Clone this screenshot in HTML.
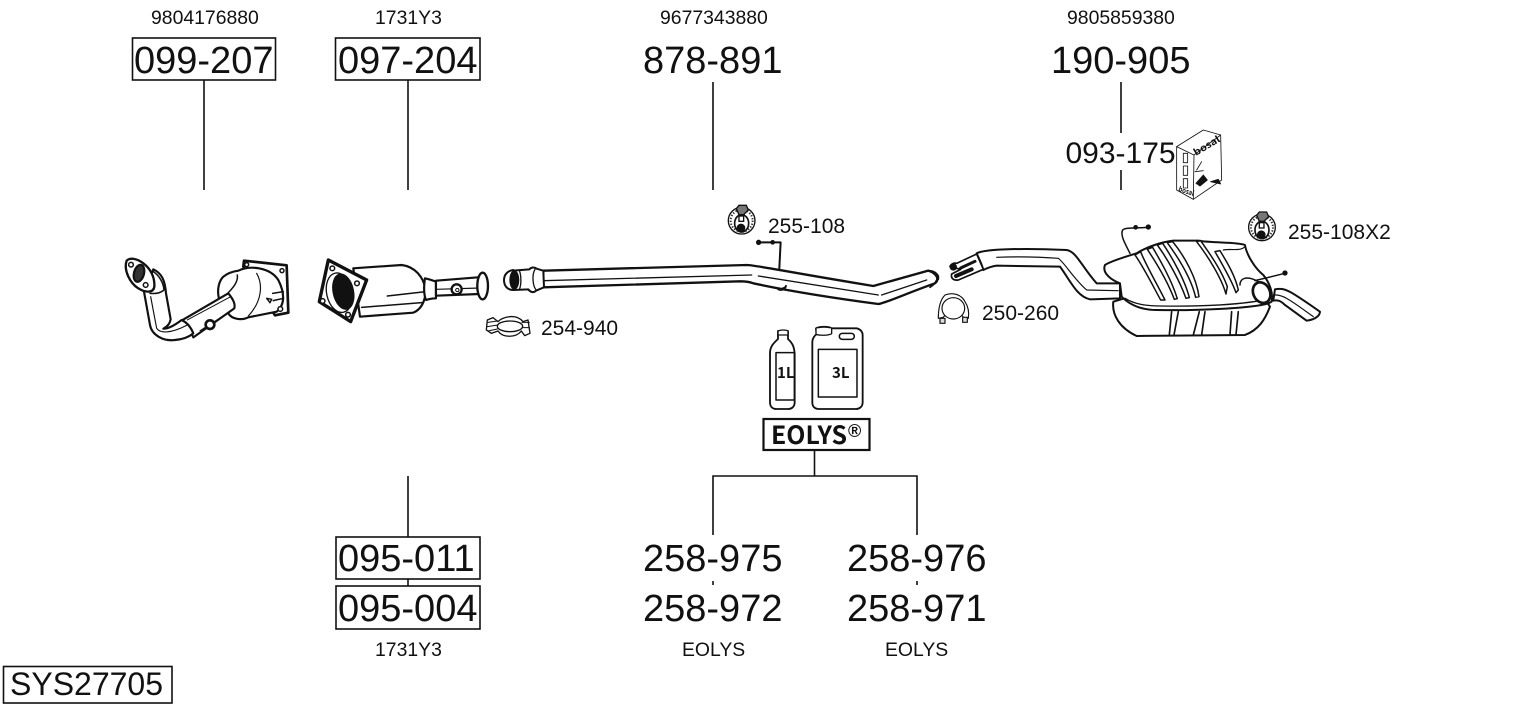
<!DOCTYPE html>
<html><head><meta charset="utf-8"><style>
html,body{margin:0;padding:0;background:#fff}
svg{display:block}
text{font-family:"Liberation Sans",sans-serif;fill:#111}
.b{font-size:38px}.s{font-size:19.400px}.m{font-size:21px}
.d path,.d line,.d ellipse,.d circle,.d polygon,.d polyline,.d rect{stroke:#111;stroke-linejoin:round;stroke-linecap:round}
.n{font-family:"Noto Sans CJK JP","Liberation Sans",sans-serif;font-weight:700}
</style></head><body>
<svg width="1530" height="711" viewBox="0 0 1530 711" xmlns="http://www.w3.org/2000/svg">
<defs>
<g id="mount">
<circle cx="0" cy="0" r="40" fill="#fff" stroke="#111" stroke-width="4"/>
<circle cx="0" cy="0" r="33" fill="none" stroke="#333" stroke-width="6" stroke-dasharray="4 5"/>
<ellipse cx="0" cy="8" rx="21" ry="26" fill="#fff" stroke="#111" stroke-width="5"/>
<path d="M-16 -36L-8 -46L14 -46L20 -32L6 -18L-8 -18Z" fill="#777" stroke="#111" stroke-width="4"/>
<rect x="-8" y="-14" width="14" height="16" fill="#fff" stroke="#111" stroke-width="4"/>
<circle cx="-2" cy="22" r="10" fill="#111" stroke="#111"/>
</g>
</defs>
<rect width="1530" height="711" fill="#fff"/>
<g fill="none" stroke="#111" stroke-width="1.6">
<path d="M204 80V190M408 80V190M713 82V190M1121 82V133M1121 170V190M408 476V537M408 579V586M814.500 450V476M713 535V476H917V535M713 581V585M917 581V585"/>
<rect x="132.500" y="38" width="143" height="42" fill="#fff"/>
<rect x="335.500" y="38" width="144.500" height="42" fill="#fff"/>
<rect x="336" y="537" width="144" height="42" fill="#fff"/>
<rect x="336" y="586" width="144" height="43" fill="#fff"/>
<rect x="3.500" y="666.500" width="168.500" height="36.500" fill="#fff"/>
</g>
<text class="s" x="151" y="24">9804176880</text>
<text class="s" x="375" y="24">1731Y3</text>
<text class="s" x="660" y="24">9677343880</text>
<text class="s" x="1067" y="24">9805859380</text>
<text class="b" x="134" y="73">099-207</text>
<text class="b" x="338" y="73">097-204</text>
<text class="b" x="643" y="73">878-891</text>
<text class="b" x="1051" y="73">190-905</text>
<text x="1065.500" y="163" font-size="30">093-175</text>
<text class="m" x="768" y="233">255-108</text>
<text class="m" x="541" y="335">254-940</text>
<text class="m" x="982" y="320">250-260</text>
<text class="m" x="1288" y="239">255-108X2</text>
<text class="b" x="338" y="571">095-011</text>
<text class="b" x="338" y="621">095-004</text>
<text class="b" x="643" y="571">258-975</text>
<text class="b" x="643" y="621">258-972</text>
<text class="b" x="847" y="571">258-976</text>
<text class="b" x="847" y="621">258-971</text>
<text class="s" x="375" y="656">1731Y3</text>
<text class="s" x="682" y="656">EOLYS</text>
<text class="s" x="885" y="656">EOLYS</text>
<text x="10" y="695" font-size="32">SYS27705</text>

<g class="d" transform="translate(100,230) scale(.3333)" fill="#fff" stroke-width="6.500">
<path d="M432 92L560 106L565 248L525 256L430 110Z" stroke-width="8"/>
<path d="M415 122C450 105 510 112 535 150C555 190 555 225 530 245L445 262C425 272 395 268 385 250C350 225 345 165 370 140C385 128 400 124 415 122Z"/>
<path d="M470 130C490 165 485 215 445 258" fill="none" stroke-width="3.500"/>
<path d="M412 135C415 155 400 172 385 188" fill="none" stroke-width="4.500"/>
<circle cx="440" cy="104" r="6" stroke-width="4.500"/><circle cx="546" cy="122" r="6" stroke-width="4.500"/><circle cx="541" cy="237" r="7" stroke-width="4.500"/>
<path d="M518 190L550 185M520 212L550 205M500 205L515 208L510 218Z" stroke-width="4.500"/>
<path d="M248 270L385 190C397 205 407 220 403 235L280 322C270 300 262 285 248 270Z"/>
<path d="M262 270L392 200M300 302L398 240" fill="none" stroke-width="3"/>
<circle cx="330" cy="284" r="13" stroke-width="8"/>
<path d="M132 185L150 285C155 315 190 335 225 330C250 328 268 320 280 310C272 290 262 278 245 270C225 285 205 297 190 296C202 290 210 280 212 268L198 190C195 150 185 130 160 118Z"/>
<path d="M152 200L170 295C180 310 210 312 262 285" fill="none" stroke-width="3.500"/>
<path d="M80 92C90 82 110 85 130 100C150 115 165 140 163 170C160 190 135 188 115 175C90 160 70 120 80 92Z" stroke-width="7"/>
<path d="M160 125C175 135 190 155 192 180C180 190 165 192 150 190" fill="none" stroke-width="4.500"/>
<circle cx="93" cy="104" r="7" stroke-width="4.500"/><circle cx="137" cy="165" r="7" stroke-width="4.500"/>
<ellipse cx="117" cy="130" rx="15" ry="26" transform="rotate(15 117 130)" fill="#333"/>

<path d="M760 115L905 105C945 110 970 140 978 180C975 220 960 240 940 248L780 260Z"/>
<path d="M862 198L978 185M785 232L965 218" fill="none" stroke-width="4.500"/>
<path d="M975 145C990 148 1000 152 1008 155L1008 205C995 205 985 208 978 210C970 190 972 165 975 145Z"/>
<path d="M1008 152L1135 142L1138 192L1008 197Z"/>
<path d="M1010 178L1140 174" fill="none" stroke-width="3.500"/>
<ellipse cx="1148" cy="168" rx="16" ry="40" stroke-width="7"/>
<circle cx="1070" cy="178" r="15" stroke-width="7"/><circle cx="1072" cy="180" r="5" stroke-width="3"/>
<path d="M685 90L800 150L752 275L658 215Z" stroke-width="10"/>
<ellipse cx="718" cy="188" rx="38" ry="60" transform="rotate(-12 718 188)" stroke-width="4"/>
<ellipse cx="730" cy="185" rx="29" ry="52" transform="rotate(-12 730 185)" fill="#111"/>
<circle cx="697" cy="115" r="7" stroke-width="4.500"/><circle cx="771" cy="160" r="7" stroke-width="4.500"/><circle cx="668" cy="213" r="7" stroke-width="4.500"/><circle cx="744" cy="254" r="7" stroke-width="4.500"/>
</g>

<g class="d" transform="translate(478,205) scale(.3333)" fill="#fff" stroke-width="4">
<path d="M60 350C75 335 115 325 135 350L150 345L156 385L140 392L130 378C115 398 75 400 60 378L40 385L25 375L28 345L45 338Z"/>
<ellipse cx="96" cy="364" rx="38" ry="16"/>
<path d="M30 352L58 348M28 365L60 360M30 378L58 372M132 352L154 352M132 368L154 368" fill="none" stroke-width="3"/>
</g>

<g class="d" transform="translate(490,200) scale(.3333)" fill="#fff" stroke-width="6">
<path d="M160 212L770 195C795 195 860 210 1150 258L1315 212C1340 220 1350 238 1335 250C1250 280 1185 310 1165 312C1000 290 860 265 790 250C780 246 765 244 750 244L160 262Z" stroke-width="7"/>
<path d="M160 242L785 225M805 228L1165 285M1175 285L1310 240" fill="none" stroke-width="4"/>
<path d="M865 268C875 272 885 268 888 258" fill="#111"/>
<path d="M805 127H872L868 206" fill="none" stroke-width="6"/>
<circle cx="806" cy="127" r="5" fill="#111"/><circle cx="848" cy="127" r="4" fill="#111"/>
<path d="M70 212L118 208C125 200 135 202 140 206L160 212L162 262L138 272C130 280 120 276 115 268L70 270C50 270 42 255 42 240C42 222 55 212 70 210Z"/>
<path d="M135 208C125 225 128 260 140 272" fill="none" stroke-width="4"/>
<ellipse cx="73" cy="240" rx="12" ry="26" fill="#111"/>
<path d="M89 214C94 230 94 255 88 268" fill="none" stroke-width="4"/>
<use href="#mount" x="755" y="62"/>
</g>

<g class="d" transform="translate(930,200) scale(.3333)" fill="#fff" stroke-width="6">
<path d="M140 160C170 145 300 145 410 150C440 155 455 200 500 250L570 250L570 295L480 298C440 290 420 240 390 200L200 197C180 200 170 205 160 210C155 190 145 172 140 160Z"/>
<path d="M200 172C250 170 320 170 385 175C405 190 430 235 470 270L565 272" fill="none" stroke-width="3.500"/>
<path d="M60 200C62 192 72 188 80 190L140 162L160 208L85 240C70 242 62 235 65 222L92 208Z" stroke-width="5"/>
<path d="M92 204L135 184" stroke-width="9" fill="none"/>
<circle cx="70" cy="201" r="8" fill="#111"/>
<path d="M78 228L125 208" stroke-width="12" fill="none"/>
<path d="M25 228C20 245 12 255 0 262" fill="none" stroke-width="5"/>
<path d="M0 212C15 214 28 224 25 238" fill="none" stroke-width="5"/>
<path d="M550 305C545 345 570 385 620 408L945 405C985 390 1005 360 1020 320L1000 290L600 290Z"/>
<path d="M725 335L718 405M745 335L732 405M808 335L790 405M825 335L815 405M905 335L900 405M925 335L918 405" fill="none" stroke-width="5"/>
<path d="M525 195C540 185 570 175 620 160C650 140 700 125 730 122L805 122C850 130 920 125 945 135C950 165 975 205 1000 225C1020 250 1030 280 1025 305C1000 325 800 332 680 330C620 330 590 305 575 290L570 250C545 240 515 220 525 195Z"/>
<path d="M585 295C610 310 640 318 690 318C800 320 950 315 1020 295" fill="none" stroke-width="4"/>
<path d="M600 160C585 130 570 105 578 90C585 82 610 85 655 82" fill="none" stroke-width="4.500"/>
<circle cx="655" cy="81" r="5" fill="#111"/><circle cx="617" cy="82" r="4" fill="#111"/>
<path d="M615 165C640 200 670 260 692 300L705 300C680 250 645 190 632 155ZM652 148C680 190 715 250 733 298L742 296C725 240 690 180 668 142ZM682 135C715 180 750 245 768 295L778 293C765 240 725 170 698 130ZM712 128C750 180 785 240 797 292L807 290C800 235 765 170 728 125ZM800 125C835 170 875 235 888 282L892 260C875 210 835 155 812 122ZM855 155C875 190 905 240 918 278L925 270C915 225 890 185 870 152Z" stroke-width="4.500"/>
<path d="M880 150C905 145 930 155 945 140" fill="none" stroke-width="3.500"/>
<path d="M930 255C930 235 950 225 985 245" fill="none" stroke-width="4.500"/>
<path d="M1035 268C1065 262 1080 272 1170 335C1170 350 1150 360 1130 362L1065 315C1050 300 1040 300 1030 302Z"/>
<path d="M1030 285C1055 282 1075 295 1150 350" fill="none" stroke-width="3.500"/>
<ellipse cx="995" cy="278" rx="25" ry="32" transform="rotate(-25 995 278)" fill="#fff" stroke-width="8"/>
<path d="M975 242L1065 220" fill="none" stroke-width="4.500"/>
<circle cx="1065" cy="219" r="5" fill="#111"/>
<use href="#mount" x="996" y="82"/>
<g stroke-width="3.500">
<path d="M45 285C70 275 95 285 105 305C115 320 118 335 115 355L100 352L95 345L45 345L40 352L25 355C25 325 30 300 45 285Z"/>
<ellipse cx="70" cy="325" rx="34" ry="32" fill="#fff"/>
<path d="M30 355H45V370H30ZM98 352H112V367H98Z" fill="#ddd"/>
</g>
</g>

<g class="d" transform="translate(750,315) scale(.3333)" fill="#fff" stroke-width="5.500">
<path d="M84 48H114V72C128 85 132 95 134 115V262C134 275 125 282 115 282H80C68 282 60 275 60 262V115C60 95 70 85 84 72Z"/>
<rect x="78" y="113" width="55" height="142" stroke-width="4.500"/>
<path d="M84 48C92 44 108 44 114 48V60H84Z" stroke-width="4"/>
<path d="M198 40C210 34 235 34 245 40H320C330 42 338 50 338 60V262C338 275 328 282 318 282H205C195 282 187 275 187 262V80C187 70 195 60 200 58Z"/>
<path d="M198 40V58C210 62 235 62 245 56V40" stroke-width="4"/>
<rect x="268" y="55" width="45" height="18" rx="9" stroke-width="4.500"/>
<rect x="205" y="103" width="116" height="143" stroke-width="4.500"/>
</g>
<text class="n" x="777" y="378" font-size="15">1L</text>
<text class="n" x="832" y="378" font-size="15">3L</text>
<rect x="763.500" y="419" width="106" height="31" fill="#fff" stroke="#111" stroke-width="2.200"/>
<text class="n" x="771" y="444" font-size="25" textLength="76" lengthAdjust="spacingAndGlyphs">EOLYS</text>
<text x="848" y="437" font-size="18" font-weight="bold">®</text>

<g class="d" transform="translate(1060,120) scale(.3333)" fill="#fff" stroke-width="2.500">
<path d="M350 80L430 30L482 45L485 180L400 238L350 210Z" stroke="#777"/>
<path d="M350 80L402 105L400 238M402 105L482 45" fill="none" stroke="#777"/>
<path d="M370 100H383V128H370ZM370 138H383V166H370ZM370 176H383V204H370Z"/>
<path d="M408 190L430 165L442 180L420 198ZM452 185L475 178L482 192Z" fill="#111"/>
<path d="M410 150L425 125M405 155L430 152" fill="none"/>
</g>
<text class="n" font-size="9.500" transform="translate(1196,156) rotate(-31)" textLength="29" lengthAdjust="spacingAndGlyphs">bosal</text>
<text class="n" font-size="7" transform="translate(1178,191) rotate(18)" textLength="16" lengthAdjust="spacingAndGlyphs">bosal</text>
</svg>
</body></html>
